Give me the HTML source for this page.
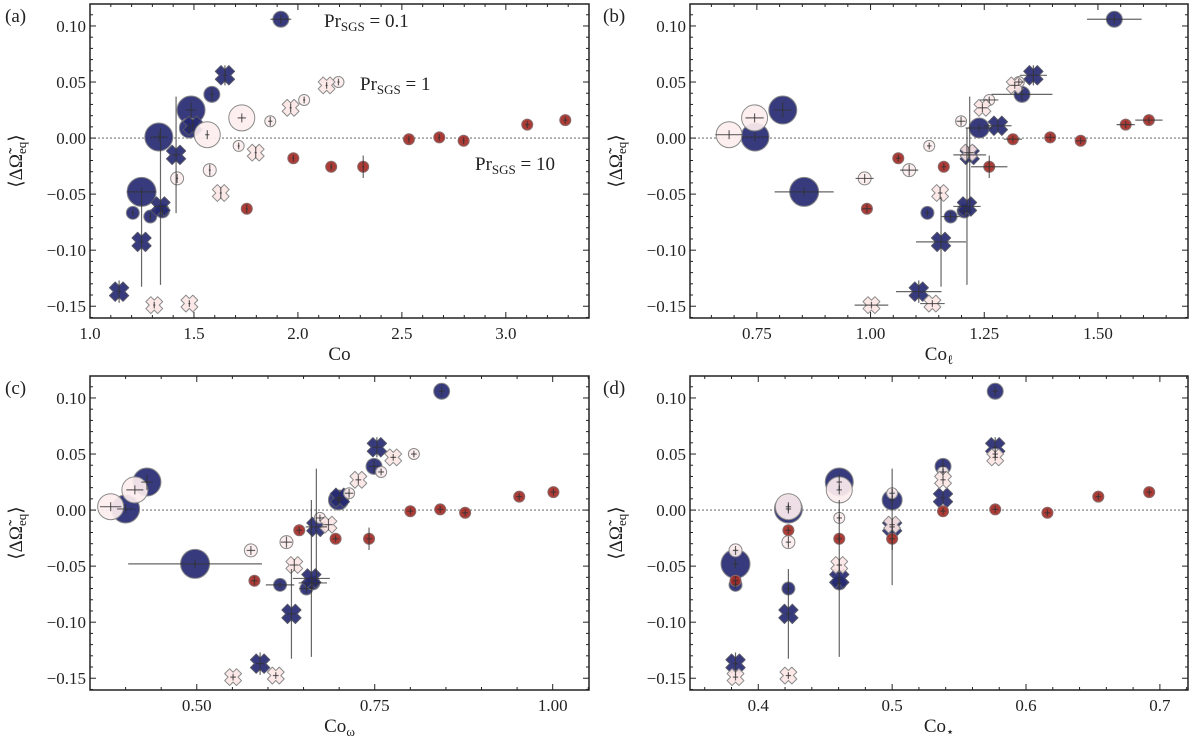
<!DOCTYPE html>
<html><head><meta charset="utf-8"><style>
body{margin:0;background:#fff;}
svg{display:block;font-family:"Liberation Serif","DejaVu Serif",serif;}
</style></head><body>
<svg id="chart" width="1200" height="743" viewBox="0 0 1200 743" xmlns="http://www.w3.org/2000/svg"></svg>
<script>
// ---- data (shared y values, per-panel x values) ----
const ys = [0.039,0.025,0.009,0.001,-0.048,-0.0667,-0.070,-0.065, 0.056,0.011,-0.015,-0.061,-0.0926,-0.137, 0.018,0.003,0.015,0.034,0.050,-0.007,-0.0286,-0.036, 0.047,0.027,-0.013,-0.049,-0.1476,-0.149, -0.001,0.0006,-0.0024,0.012,0.016,-0.018,-0.0256,-0.0256,-0.063, 0.106];
const types = ['n','n','n','n','n','n','n','n','nx','nx','nx','nx','nx','nx','p','p','p','p','p','p','p','p','px','px','px','px','px','px','r','r','r','r','r','r','r','r','r','n'];
const sizes = [8,14,10,14,14.5,6.5,6.5,7, 8,8,8,8,8,8, 13,13,5.5,5.5,5.5,5.5,6.5,6.5, 7,7,7,7,7,7, 5.5,5.5,5.5,5.5,5.5,5.5,5.5,5.5,5.5, 8];
const xa = [1.586,1.486,1.478,1.331,1.248,1.206,1.29,1.348, 1.649,1.494,1.414,1.339,1.248,1.140, 1.730,1.564,1.867,2.030,2.195,1.715,1.576,1.419, 2.138,1.965,1.797,1.629,1.478,1.309, 2.534,2.68,2.797,3.103,3.286,1.978,2.160,2.314,1.754, 1.918];
const xb = [1.333,0.807,1.239,0.746,0.854,1.125,1.176,1.206, 1.358,1.280,1.218,1.212,1.155,1.106, 0.745,0.689,1.199,1.261,1.326,1.129,1.085,0.987, 1.317,1.246,1.216,1.153,1.136,1.002, 1.313,1.395,1.462,1.561,1.612,1.061,1.161,1.261,0.992, 1.536];
const xc = [0.749,0.430,0.699,0.400,0.4976,0.617,0.654,0.663, 0.753,0.701,0.668,0.661,0.633,0.589, 0.413,0.379,0.714,0.759,0.805,0.673,0.626,0.576, 0.776,0.727,0.685,0.637,0.611,0.551, 0.800,0.842,0.877,0.953,1.001,0.644,0.695,0.742,0.581, 0.844];
const xd = [0.538,0.4605,0.5,0.4225,0.383,0.383,0.4225,0.4605, 0.577,0.538,0.5,0.4605,0.4225,0.383, 0.4605,0.4225,0.5,0.538,0.577,0.4605,0.4225,0.383, 0.577,0.538,0.5,0.4605,0.4225,0.383, 0.538,0.577,0.616,0.654,0.692,0.4225,0.4605,0.5,0.383, 0.577];
const yerr = [0.006,0.007,0.004,0.004,0.004,0.003,0.004,0.004, 0.009,0.005,0.052,0.07,0.04,0.01, 0.004,0.004,0.004,0.003,0.003,0.003,0.005,0.004, 0.003,0.004,0.005,0.005,0.003,0.003, 0.003,0.003,0.003,0.003,0.003,0.003,0.003,0.01,0.004, 0.004];
const xerrA = [0.01,0.025,0.01,0.04,0.07,0.005,0.005,0.01, 0.01,0.01,0.02,0.03,0.01,0.01, 0.02,0.01,0.01,0.005,0.005,0.005,0.005,0.005, 0.005,0.005,0.005,0.005,0.005,0.005, 0.005,0.005,0.005,0.01,0.01,0.005,0.005,0.005,0.005, 0.05];
const xerrB = [0.067,0.02,0.03,0.03,0.065,0.005,0.02,0.01, 0.03,0.03,0.036,0.03,0.055,0.05, 0.02,0.03,0.01,0.02,0.01,0.005,0.02,0.02, 0.01,0.01,0.01,0.005,0.027,0.037, 0.02,0.01,0.01,0.02,0.03,0.005,0.005,0.04,0.01, 0.06];
const xerrC = [0.008,0.008,0.006,0.012,0.094,0.02,0.01,0.02, 0.006,0.006,0.015,0.026,0.006,0.006, 0.012,0.015,0.006,0.004,0.004,0.006,0.008,0.006, 0.004,0.004,0.006,0.006,0.004,0.004, 0.004,0.004,0.004,0.004,0.004,0.004,0.004,0.004,0.004, 0.004];
const xerrD = [0.002,0.002,0.002,0.002,0.002,0.002,0.002,0.002, 0.002,0.002,0.002,0.002,0.002,0.002, 0.002,0.002,0.002,0.002,0.002,0.002,0.002,0.002, 0.002,0.002,0.002,0.002,0.002,0.002, 0.002,0.002,0.002,0.002,0.002,0.002,0.002,0.002,0.002, 0.002];
const yTicks = [0.10,0.05,0.00,-0.05,-0.10,-0.15];
const yTickLabels = ['0.10','0.05','0.00','\u22120.05','\u22120.10','\u22120.15'];

const NS='http://www.w3.org/2000/svg';
const svg=document.getElementById('chart');
function mk(tag,attrs,parent){const e=document.createElementNS(NS,tag);for(const k in attrs)e.setAttribute(k,attrs[k]);(parent||svg).appendChild(e);return e;}

const panels=[
 {id:'a',x0:90,x1:589,y0:4,y1:318,xmin:1.0,xmax:3.40,xs:xa,xe:xerrA,xt:[1.0,1.5,2.0,2.5,3.0],xl:['1.0','1.5','2.0','2.5','3.0'],minor:0.1,title:'Co',sub:'',lab:[5,22]},
 {id:'b',x0:690,x1:1188,y0:4,y1:318,xmin:0.603,xmax:1.698,xs:xb,xe:xerrB,xt:[0.75,1.0,1.25,1.5],xl:['0.75','1.00','1.25','1.50'],minor:0.05,title:'Co',sub:'\u2113',lab:[603,22]},
 {id:'c',x0:90,x1:589,y0:376,y1:690,xmin:0.35,xmax:1.051,xs:xc,xe:xerrC,xt:[0.5,0.75,1.0],xl:['0.50','0.75','1.00'],minor:0.05,title:'Co',sub:'\u03c9',lab:[5,394]},
 {id:'d',x0:690,x1:1188,y0:376,y1:690,xmin:0.349,xmax:0.721,xs:xd,xe:xerrD,xt:[0.4,0.5,0.6,0.7],xl:['0.4','0.5','0.6','0.7'],minor:0.02,title:'Co',sub:'\u22c6',lab:[603,394]}
];
const YMIN=-0.1605,YMAX=0.1196;
const colors={n:{f:'#262a72',s:'#888'},nx:{f:'#262a72',s:'#556'},p:{f:'#fdeeee',s:'#8a8a8a'},px:{f:'#fde6e6',s:'#8a8a8a'},r:{f:'#a52a25',s:'#8a6a6a'}};
const order=['n','nx','p','px','r'];

panels.forEach(P=>{
  const g=mk('g',{});
  
  
  const X=v=>P.x0+(v-P.xmin)/(P.xmax-P.xmin)*(P.x1-P.x0);
  const Y=v=>P.y1-(v-YMIN)/(YMAX-YMIN)*(P.y1-P.y0);
  const zl=mk('line',{x1:P.x0,x2:P.x1,y1:Y(0),y2:Y(0),stroke:'#777','stroke-width':1.1,'stroke-dasharray':'2,2'},g);
  
  
  const mg=mk('g',{'fill-opacity':0.92},g);
  order.forEach(t=>{
    ys.forEach((yv,i)=>{
      if(types[i]!==t)return;
      const cx=X(P.xs[i]),cy=Y(yv),r=sizes[i],c=colors[t];
      let el;
      if(t==='nx'||t==='px'){
        const s=r*1.2,a=s*0.42;
        const pts=[[-a,-s],[a,-s],[a,-a],[s,-a],[s,a],[a,a],[a,s],[-a,s],[-a,a],[-s,a],[-s,-a],[-a,-a]];
        el=mk('polygon',{points:pts.map(p=>p.join(',')).join(' '),transform:`translate(${cx},${cy}) rotate(45)`,fill:c.f,stroke:c.s,'stroke-width':1,'stroke-linejoin':'round'},mg);
        
      }else{
        el=mk('circle',{cx:cx,cy:cy,r:r,fill:c.f,stroke:c.s,'stroke-width':1},mg);
        
      }
      
    });
  });
  ys.forEach((yv,i)=>{
    const cx=X(P.xs[i]),cy=Y(yv);
    const e1=mk('line',{x1:cx,x2:cx,y1:Y(yv+yerr[i]),y2:Y(yv-yerr[i]),stroke:'#333','stroke-opacity':0.75,'stroke-width':1.2},g);
    
    
    const e2=mk('line',{x1:X(P.xs[i]-P.xe[i]),x2:X(P.xs[i]+P.xe[i]),y1:cy,y2:cy,stroke:'#333','stroke-opacity':0.75,'stroke-width':1.2},g);
    
    
  });
  const fr=mk('rect',{x:P.x0,y:P.y0,width:P.x1-P.x0,height:P.y1-P.y0,fill:'none',stroke:'#222','stroke-width':1.5},g);
  
  
  const tg=mk('g',{stroke:'#222','stroke-width':1},g);
  for(let v=Math.ceil(P.xmin/P.minor)*P.minor;v<=P.xmax;v+=P.minor){
    const major=P.xt.some(t=>Math.abs(t-v)<1e-6);const L=major?6:3;const x=X(v);
    mk('line',{x1:x,x2:x,y1:P.y1,y2:P.y1-L},tg);mk('line',{x1:x,x2:x,y1:P.y0,y2:P.y0+L},tg);
  }
  for(let k=-16;k<=11;k++){
    const v=k*0.01;const major=(k%5===0);const L=major?6:3;const y=Y(v);
    if(y<P.y0||y>P.y1)continue;
    mk('line',{x1:P.x0,x2:P.x0+L,y1:y,y2:y},tg);mk('line',{x1:P.x1,x2:P.x1-L,y1:y,y2:y},tg);
  }
  P.xt.forEach((v,i)=>{
    const t=mk('text',{x:X(v),y:P.y1+21,'text-anchor':'middle','font-size':17,fill:'#222'},g);
    t.textContent=P.xl[i];
    
    
  });
  yTicks.forEach((v,i)=>{
    const t=mk('text',{x:P.x0-4,y:Y(v)+6,'text-anchor':'end','font-size':17,fill:'#222'},g);
    t.textContent=yTickLabels[i];
    
    
  });
  const xt=mk('text',{x:(P.x0+P.x1)/2,y:P.y1+42,'text-anchor':'middle','font-size':19,fill:'#222'},g);
  xt.textContent=P.title;
  if(P.sub){const s=mk('tspan',{'font-size':13,dy:4},xt);s.textContent=P.sub;}
  
  
  const cy=(P.y0+P.y1)/2, lx=P.x0-68;
  const yt=mk('text',{x:0,y:0,transform:`translate(${lx},${cy}) rotate(-90)`,'text-anchor':'middle','font-size':19,fill:'#222'},g);
  yt.textContent='\u27e8\u0394\u03a9\u0303';
  const ys2=mk('tspan',{'font-size':13,dy:4},yt);ys2.textContent='eq';
  const ys3=mk('tspan',{dy:-4},yt);ys3.textContent='\u27e9';
  
  
  const pl=mk('text',{x:P.lab[0],y:P.lab[1],'font-size':19,fill:'#222'},g);
  pl.textContent='('+P.id+')';
  
  
});

[['0.1',324,27],['1',360,90],['10',475,170]].forEach(a=>{
  const t=mk('text',{x:a[1],y:a[2],'font-size':19,fill:'#222'});
  t.textContent='Pr';
  const s=mk('tspan',{'font-size':13,dy:4},t);s.textContent='SGS';
  const e=mk('tspan',{dy:-4},t);e.textContent=' = '+a[0];
  
  
});
</script>
</body></html>
